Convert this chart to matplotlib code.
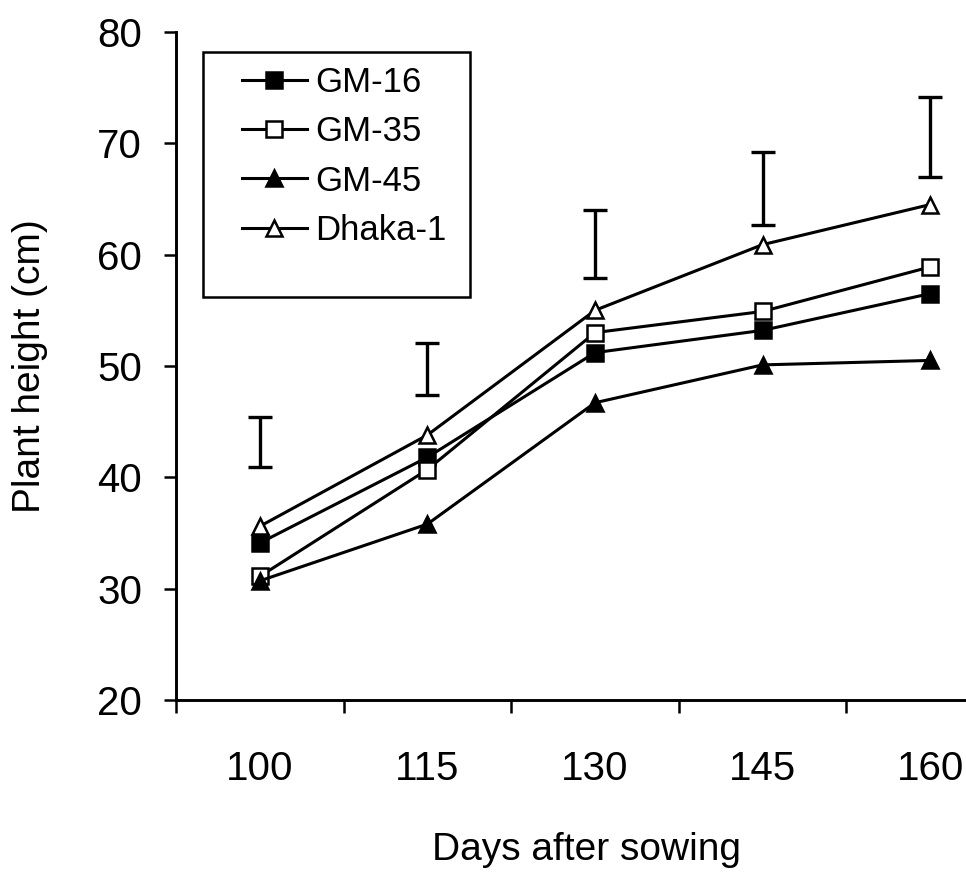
import matplotlib
matplotlib.use("Agg")
import matplotlib.pyplot as plt
from matplotlib.patches import Rectangle
import numpy as np

plt.rcParams['font.family'] = ['Liberation Sans', 'DejaVu Sans']

days = ["100", "115", "130", "145", "160"]
gm16 = [34.1, 41.8, 51.2, 53.2, 56.5]
gm35 = [31.1, 40.7, 53.0, 54.9, 58.9]
gm45 = [30.7, 35.8, 46.7, 50.1, 50.5]
dhaka1 = [35.6, 43.8, 55.0, 60.9, 64.5]
lsd_low = [40.9, 47.4, 57.9, 62.7, 67.0]
lsd_high = [45.4, 52.1, 64.0, 69.2, 74.2]

W, H = 966, 872
fig = plt.figure(figsize=(W / 100, H / 100), dpi=100)
ax_l, ax_r, ax_b, ax_t = 176, 1014, 700, 32
ax = fig.add_axes([ax_l / W, (H - ax_b) / H, (ax_r - ax_l) / W, (ax_b - ax_t) / H])

x = np.arange(len(days))
lw = 2.2
ms = 12
series = [
    ("GM-16", gm16, "s", "black"),
    ("GM-35", gm35, "s", "white"),
    ("GM-45", gm45, "^", "black"),
    ("Dhaka-1", dhaka1, "^", "white"),
]
handles = []
for name, vals, mk, fc in series:
    h, = ax.plot(x, vals, color="black", lw=lw, marker=mk, markersize=ms,
                 markerfacecolor=fc, markeredgecolor="black", markeredgewidth=1.8,
                 label=name, zorder=3)
    handles.append(h)

low = np.array(lsd_low)
high = np.array(lsd_high)
mid = (low + high) / 2
half = (high - low) / 2
ax.errorbar(x, mid, yerr=half, fmt="none", ecolor="black", elinewidth=2.4,
            capsize=8.5, capthick=2.4, zorder=2)

ax.set_xlim(-0.5, len(days) - 0.5)
ax.set_ylim(20, 80)
ax.set_yticks(np.arange(20, 81, 10))
ax.set_xticks(x)
ax.set_xticklabels(days)
ax.set_xticks(np.arange(-0.5, len(days) - 0.5, 1.0), minor=True)
ax.tick_params(axis="x", which="major", length=0, pad=36, labelsize=29)
ax.tick_params(axis="x", which="minor", length=9, width=1.8, direction="out")
ax.tick_params(axis="y", which="major", length=8.5, width=1.8, direction="out",
               pad=16, labelsize=29)

for s in ["top", "right"]:
    ax.spines[s].set_visible(False)
for s in ["left", "bottom"]:
    ax.spines[s].set_linewidth(2.1)

fig.text(587 / W, (H - 850) / H, "Days after sowing", fontsize=28,
         ha="center", va="center")
fig.text(30 / W, (H - 366) / H, "Plant height (cm)", fontsize=28,
         ha="center", va="center", rotation=90)

# legend
leg = fig.legend(handles=handles, loc="upper left",
                 bbox_to_anchor=(242 / W, (H - 66) / H), frameon=False,
                 fontsize=25, handlelength=1.87, handletextpad=0.25,
                 labelspacing=0.47, borderaxespad=0, borderpad=0)
for lh in leg.get_lines():
    lh.set_markersize(12)
fig.patches.append(Rectangle((203 / W, (H - 297) / H), (470 - 203) / W, (297 - 52) / H,
                             transform=fig.transFigure, fill=False,
                             edgecolor="black", linewidth=1.8, zorder=5))

fig.savefig("out.png", dpi=100)
